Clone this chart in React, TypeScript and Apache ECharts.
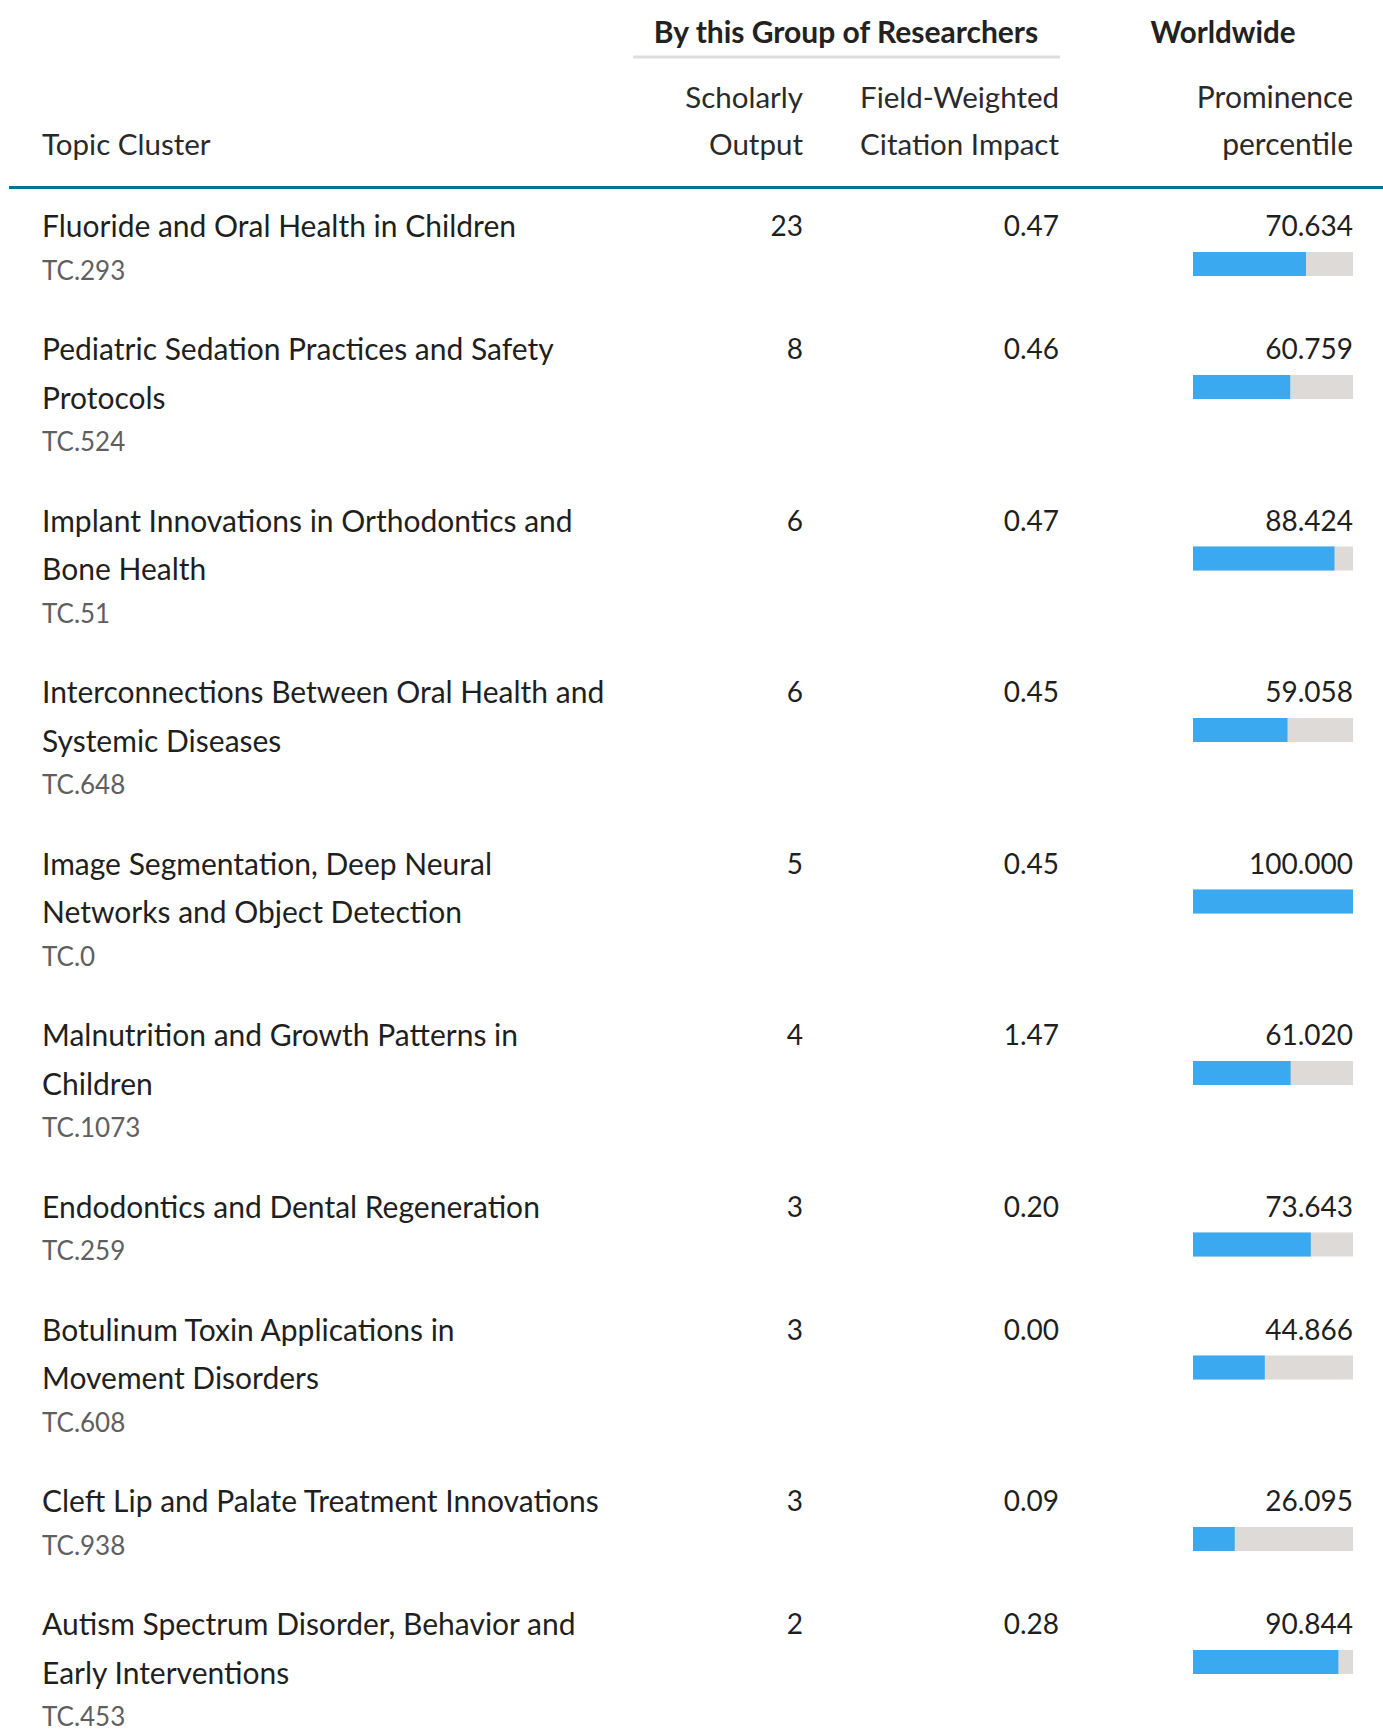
import React, { useEffect, useRef } from "react";
import * as echarts from "echarts";

// ---------- data ----------
const topicLines: string[][] = [
  ["Fluoride and Oral Health in Children"],
  ["Pediatric Sedation Practices and Safety", "Protocols"],
  ["Implant Innovations in Orthodontics and", "Bone Health"],
  ["Interconnections Between Oral Health and", "Systemic Diseases"],
  ["Image Segmentation, Deep Neural", "Networks and Object Detection"],
  ["Malnutrition and Growth Patterns in", "Children"],
  ["Endodontics and Dental Regeneration"],
  ["Botulinum Toxin Applications in", "Movement Disorders"],
  ["Cleft Lip and Palate Treatment Innovations"],
  ["Autism Spectrum Disorder, Behavior and", "Early Interventions"],
];
const topicCodes = ["TC.293", "TC.524", "TC.51", "TC.648", "TC.0", "TC.1073", "TC.259", "TC.608", "TC.938", "TC.453"];
const scholarlyOutput = [23, 8, 6, 6, 5, 4, 3, 3, 3, 2];
const fwci = [0.47, 0.46, 0.47, 0.45, 0.45, 1.47, 0.2, 0.0, 0.09, 0.28];
const prominence = [70.634, 60.759, 88.424, 59.058, 100.0, 61.02, 73.643, 44.866, 26.095, 90.844];

// ---------- layout ----------
const W = 1383;
const H = 1729;
const FONT = "Lato";
const FS_TEXT = 30;
const FS_HEAD = 29.5;
const FS_NUM = 28;
const FS_CODE = 26;
const FIRST_ROW_Y = 225;
const LINE_H = 48.5;
const ROW_EXTRA = 74.5;
const CODE_OFFSET = 44.5;
const BAR_OFFSET = 27;
const BAR_H = 24;
const TITLE_X = 42;
const OUT_X = 803;
const FWCI_X = 1059;
const BAR_LEFT = 1193;
const BAR_RIGHT = 1353;
const TEXT_COLOR = "#1f1f1f";
const HEAD_COLOR = "#2a2a2a";
const CODE_COLOR = "#5f5f5f";
const BLUE = "#3BA9EF";
const GREY_BAR = "#DEDAD7";

const rowY: number[] = [];
{
  let y = FIRST_ROW_Y;
  topicLines.forEach((lines) => {
    rowY.push(y);
    y += lines.length * LINE_H + ROW_EXTRA;
  });
}

export default function App() {
  const ref = useRef<HTMLDivElement>(null);
  useEffect(() => {
    if (!ref.current) return;
    const chart = echarts.init(ref.current, null, { renderer: "svg" });
    const txt = (text: string, x: number, y: number, extra: any = {}) => ({
      type: "text",
      style: {
        text,
        x,
        y,
        fill: TEXT_COLOR,
        fontFamily: FONT,
        fontSize: FS_TEXT,
        verticalAlign: "middle",
        align: "left",
        ...extra,
      },
    });
    const head = (text: string, x: number, y: number, extra: any = {}) =>
      txt(text, x, y, { fill: HEAD_COLOR, fontSize: FS_HEAD, ...extra });
    chart.setOption({
      animation: false,
      grid: { left: BAR_LEFT, width: BAR_RIGHT - BAR_LEFT, top: 0, height: H },
      xAxis: { type: "value", min: 0, max: 100, show: false },
      yAxis: { type: "value", min: 0, max: H, inverse: true, show: false },
      graphic: [
        head("By this Group of Researchers", 846, 31, { align: "center", fontWeight: "bold", fill: "#222", fontSize: 30 }),
        { type: "rect", shape: { x: 633, y: 55.5, width: 427, height: 3 }, style: { fill: "#DDDDDD" } },
        head("Worldwide", 1223, 31, { align: "center", fontWeight: "bold", fill: "#222" }),
        head("Scholarly", OUT_X, 96, { align: "right" }),
        head("Output", OUT_X, 143, { align: "right" }),
        head("Field-Weighted", FWCI_X, 96, { align: "right" }),
        head("Citation Impact", FWCI_X, 143, { align: "right" }),
        head("Prominence", BAR_RIGHT, 96, { align: "right", fontSize: 30 }),
        head("percentile", BAR_RIGHT, 143, { align: "right", fontSize: 30 }),
        head("Topic Cluster", TITLE_X, 143, {}),
        { type: "rect", shape: { x: 9, y: 186, width: W - 9, height: 3 }, style: { fill: "#00739A" } },
      ],
      series: [
        {
          type: "custom",
          coordinateSystem: "cartesian2d",
          clip: false,
          data: rowY.map((y, i) => [i, y]),
          renderItem: (params: any, api: any) => {
            const i = api.value(0) as number;
            const yv = api.value(1) as number;
            const [x0, y] = api.coord([0, yv]);
            const [x100] = api.coord([100, yv]);
            const [xv] = api.coord([prominence[i], yv]);
            const lines = topicLines[i];
            const yBar = api.coord([0, yv + BAR_OFFSET])[1];
            const children: any[] = [];
            lines.forEach((t, k) => children.push(txt(t, TITLE_X, y + k * LINE_H)));
            children.push(
              txt(topicCodes[i], TITLE_X, y + (lines.length - 1) * LINE_H + CODE_OFFSET, {
                fill: CODE_COLOR,
                fontSize: FS_CODE,
              })
            );
            children.push(txt(String(scholarlyOutput[i]), OUT_X, y, { align: "right", fontSize: FS_NUM }));
            children.push(txt(fwci[i].toFixed(2), FWCI_X, y, { align: "right", fontSize: FS_NUM }));
            children.push(txt(prominence[i].toFixed(3), x100, y, { align: "right", fontSize: FS_NUM }));
            children.push({
              type: "rect",
              shape: { x: x0, y: yBar, width: x100 - x0, height: BAR_H },
              style: { fill: GREY_BAR },
            });
            children.push({
              type: "rect",
              shape: { x: x0, y: yBar, width: xv - x0, height: BAR_H },
              style: { fill: BLUE },
            });
            return { type: "group", children };
          },
        },
      ],
    });
    return () => chart.dispose();
  }, []);
  return (
    <div
      ref={ref}
      style={{ position: "absolute", left: 0, top: 0, width: W, height: H, background: "#fff" }}
    />
  );
}
